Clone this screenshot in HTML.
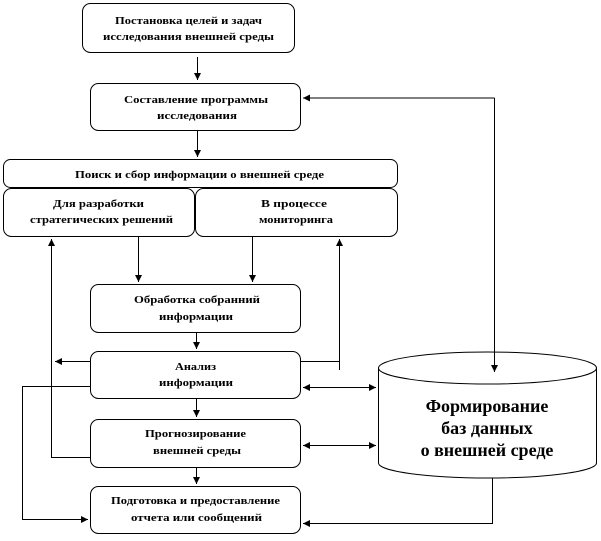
<!DOCTYPE html>
<html><head><meta charset="utf-8"><style>
body{margin:0;background:#fff}
svg text{font-family:"Liberation Serif",serif;font-weight:bold;fill:#000}
</style></head><body>
<svg width="601" height="536" viewBox="0 0 601 536" xmlns="http://www.w3.org/2000/svg">
<defs><marker id="a" markerWidth="8" markerHeight="8" refX="7" refY="4" orient="auto" markerUnits="userSpaceOnUse"><path d="M0,0.5 L7,4 L0,7.5z" fill="#000"/></marker></defs>
<g fill="#fff" stroke="#000" stroke-width="1">
<rect x="82.5" y="3.5" width="212" height="49" rx="8"/>
<rect x="90.5" y="83.5" width="210" height="47" rx="8"/>
<rect x="3.5" y="159.5" width="394" height="28" rx="7"/>
<rect x="3.5" y="188.5" width="191" height="48" rx="8"/>
<rect x="195.5" y="188.5" width="202" height="48" rx="8"/>
<rect x="90.5" y="284.5" width="210" height="48" rx="8"/>
<rect x="90.5" y="351.5" width="210" height="47" rx="8"/>
<rect x="90.5" y="419.5" width="210" height="48" rx="8"/>
<rect x="90.5" y="486.5" width="210" height="47" rx="8"/>
<path d="M378.5,368 L378.5,463 A109,15 0 0 0 596.5,463 L596.5,368"/>
<ellipse cx="487.5" cy="368" rx="109" ry="16"/>
</g>
<g fill="none" stroke="#000" stroke-width="1">
<path d="M197.5,57 V80" marker-end="url(#a)"/>
<path d="M197.5,131 V157" marker-end="url(#a)"/>
<path d="M494.5,98 H303" marker-end="url(#a)"/>
<path d="M494.5,98 V372" marker-end="url(#a)"/>
<path d="M138.5,237 V282" marker-end="url(#a)"/>
<path d="M252.5,237 V282" marker-end="url(#a)"/>
<path d="M196.5,333 V349" marker-end="url(#a)"/>
<path d="M196.5,399 V417" marker-end="url(#a)"/>
<path d="M196.5,468 V484" marker-end="url(#a)"/>
<path d="M90,361.5 H55" marker-end="url(#a)"/>
<path d="M90,457.5 H51.5 V239" marker-end="url(#a)"/>
<path d="M90,386.5 H22.5 V519.5 H88" marker-end="url(#a)"/>
<path d="M301,361.5 H339.5 V370"/>
<path d="M339.5,362 V239" marker-end="url(#a)"/>
<path d="M340,387.5 H303" marker-end="url(#a)"/>
<path d="M340,387.5 H376" marker-end="url(#a)"/>
<path d="M340,445.5 H303" marker-end="url(#a)"/>
<path d="M340,445.5 H376" marker-end="url(#a)"/>
<path d="M492.5,478 V523.5 H303" marker-end="url(#a)"/>
</g>
<g font-size="11" lengthAdjust="spacingAndGlyphs">
<text x="115" y="24" textLength="147" lengthAdjust="spacingAndGlyphs">Постановка целей и задач</text>
<text x="103" y="40" textLength="171" lengthAdjust="spacingAndGlyphs">исследования внешней среды</text>
<text x="124" y="103" textLength="144" lengthAdjust="spacingAndGlyphs">Составление  программы</text>
<text x="157" y="119" textLength="80" lengthAdjust="spacingAndGlyphs">исследования</text>
<text x="75" y="178" textLength="249" lengthAdjust="spacingAndGlyphs">Поиск и сбор информации о внешней среде</text>
<text x="53" y="207" textLength="91" lengthAdjust="spacingAndGlyphs">Для разработки</text>
<text x="30" y="223" textLength="143" lengthAdjust="spacingAndGlyphs">стратегических  решений</text>
<text x="261" y="207" textLength="66" lengthAdjust="spacingAndGlyphs">В процессе</text>
<text x="259" y="223" textLength="74" lengthAdjust="spacingAndGlyphs">мониторинга</text>
<text x="134" y="303" textLength="126" lengthAdjust="spacingAndGlyphs">Обработка собранний</text>
<text x="159" y="320" textLength="74" lengthAdjust="spacingAndGlyphs">информации</text>
<text x="175" y="370" textLength="41" lengthAdjust="spacingAndGlyphs">Анализ</text>
<text x="159" y="386" textLength="74" lengthAdjust="spacingAndGlyphs">информации</text>
<text x="145" y="437" textLength="101" lengthAdjust="spacingAndGlyphs">Прогнозирование</text>
<text x="153" y="454" textLength="88" lengthAdjust="spacingAndGlyphs">внешней среды</text>
<text x="111" y="504" textLength="169" lengthAdjust="spacingAndGlyphs">Подготовка  и предоставление</text>
<text x="131" y="521" textLength="131" lengthAdjust="spacingAndGlyphs">отчета или сообщений</text>
</g>
<g font-size="18" text-anchor="middle">
<text x="487" y="412">Формирование</text>
<text x="487" y="434">баз данных</text>
<text x="487" y="456">о внешней среде</text>
</g>
</svg>
</body></html>
